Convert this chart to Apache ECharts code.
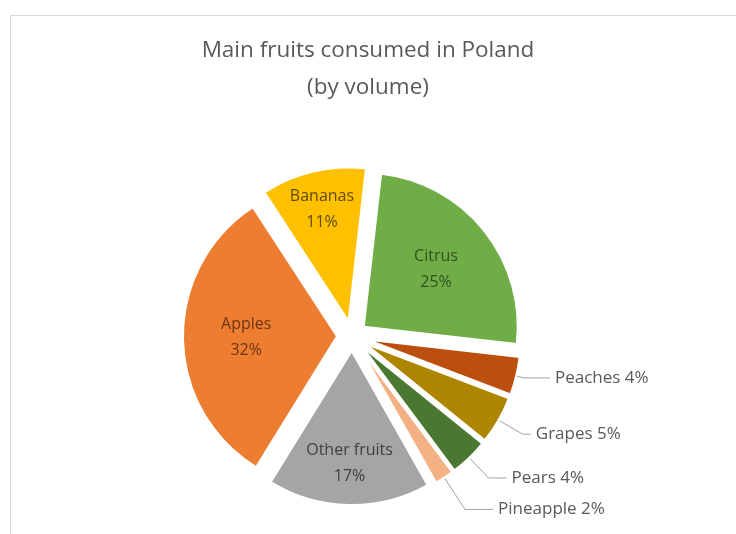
<!DOCTYPE html>
<html>
<head>
<meta charset="utf-8">
<script src="https://cdn.jsdelivr.net/npm/echarts@6/dist/echarts.min.js"></script>
<style>
html,body{margin:0;padding:0;background:#fff;}
#chart{width:736px;height:534px;}
</style>
</head>
<body>
<div id="chart"></div>
<script>
// ---- data ----
const categories = ['Citrus', 'Peaches', 'Grapes', 'Pears', 'Pineapple', 'Other fruits', 'Apples', 'Bananas'];
const shares = [25, 4, 5, 4, 2, 17, 32, 11];
const titleText = 'Main fruits consumed in Poland\n(by volume)';

// ---- styles ----
const colors = ['#70AD47', '#BC4F0E', '#AE8500', '#4A7830', '#F4B183', '#A5A5A5', '#ED7D31', '#FFC000'];
const insideLabelColors = {'Citrus': '#2f5220', 'Other fruits': '#404040', 'Apples': '#6e3410', 'Bananas': '#5e4c0c'};
const insideLabelRadius = {'Citrus': 0.58, 'Other fruits': 0.71, 'Apples': 0.57, 'Bananas': 0.73};
const outsideLine = {'Peaches': [8, 26], 'Grapes': [28, 8], 'Pears': [28, 18], 'Pineapple': [38, 28]};

const R = 154, CX = 352, CY = 336, START = 83.5, OFFSET = 15;
const total = shares.reduce((a, b) => a + b, 0);

const data = categories.map((name, i) => {
  const item = {name: name, value: shares[i], selected: true, itemStyle: {color: colors[i]}};
  if (insideLabelColors[name]) {
    item.label = {position: 'inside', formatter: '{b}\n{c}%', color: insideLabelColors[name], fontSize: 16, lineHeight: 26};
    item.labelLine = {show: false};
  } else {
    item.label = {position: 'outside', formatter: '{b} {c}%', color: '#595959', fontSize: 17};
    item.labelLine = {show: true, length: outsideLine[name][0], length2: outsideLine[name][1], lineStyle: {color: '#a0a0a0', width: 1}};
  }
  return item;
});

const chart = echarts.init(document.getElementById('chart'), null, {renderer: 'canvas'});
chart.setOption({
  backgroundColor: '#fff',
  animation: false,
  textStyle: {fontFamily: 'Open Sans'},
  title: {
    text: titleText, left: 'center', top: 27,
    textStyle: {fontFamily: 'Open Sans', fontSize: 22.5, fontWeight: 'normal', color: '#595959', lineHeight: 37}
  },
  graphic: [
    {type: 'line', shape: {x1: 10.5, y1: 15.5, x2: 736, y2: 15.5}, style: {stroke: '#d9d9d9', lineWidth: 1}, silent: true},
    {type: 'line', shape: {x1: 10.5, y1: 15.5, x2: 10.5, y2: 534}, style: {stroke: '#d9d9d9', lineWidth: 1}, silent: true}
  ],
  series: [{
    type: 'pie',
    center: [CX, CY],
    radius: [0, R],
    startAngle: START,
    clockwise: true,
    selectedMode: 'multiple',
    selectedOffset: OFFSET,
    avoidLabelOverlap: false,
    itemStyle: {borderColor: '#fff', borderWidth: 2},
    emphasis: {scale: false},
    data: data,
    labelLayout: function (params) {
      const name = categories[params.dataIndex];
      const k = insideLabelRadius[name];
      if (k === undefined) return {};
      let before = 0;
      for (let i = 0; i < params.dataIndex; i++) before += shares[i];
      const midDeg = (90 - START) + (before + shares[params.dataIndex] / 2) / total * 360; // clockwise from 12 o'clock
      const a = midDeg * Math.PI / 180;
      const shift = (k - 0.5) * R;
      return {dx: Math.sin(a) * shift, dy: -Math.cos(a) * shift};
    }
  }]
});
</script>
</body>
</html>
